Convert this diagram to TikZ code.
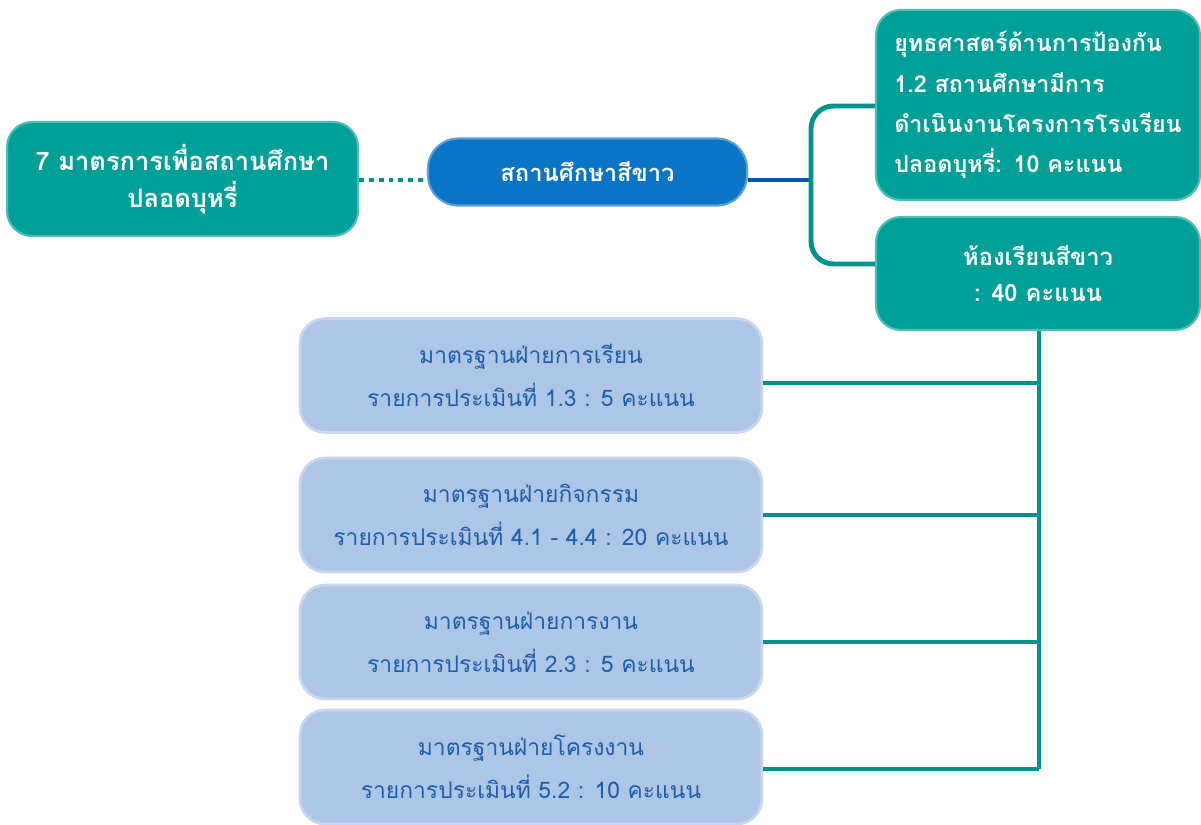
\documentclass[tikz,border=0pt]{standalone}
\usepackage{fontspec}
\setmainfont[Script=Thai]{Loma}
\definecolor{tealfill}{HTML}{00A098}
\definecolor{tealedge}{HTML}{4DBDB6}
\definecolor{tealline}{HTML}{00928C}
\definecolor{bluefill}{HTML}{0A74C6}
\definecolor{blueedge}{HTML}{5A9EDC}
\definecolor{blueline}{HTML}{0557A8}
\definecolor{lightfill}{HTML}{AEC6E6}
\definecolor{lightedge}{HTML}{C8D7EF}
\definecolor{lighttext}{HTML}{1F5EA8}
\tikzset{
  tealbox/.style={draw=tealedge, line width=1.2pt, fill=tealfill, rounded corners=0.5cm,
    text=white, font=\bfseries\fontsize{13.5}{21}\selectfont, align=center, inner sep=0pt},
  bluebox/.style={draw=blueedge, line width=1.2pt, fill=bluefill, rounded corners=0.6cm,
    text=white, font=\bfseries\fontsize{13.5}{20}\selectfont, align=center, inner sep=0pt},
  lightbox/.style={draw=lightedge, line width=1.5pt, fill=lightfill, rounded corners=0.5cm,
    text=lighttext, font=\fontsize{13}{24.5}\selectfont, align=center, inner sep=0pt,
    minimum width=9.24cm, minimum height=2.28cm},
  tline/.style={draw=tealline, line width=2.8pt},
}
\begin{document}
\begin{tikzpicture}[x=0.02cm, y=-0.02cm]
\useasboundingbox (0,0) rectangle (1201,825);

\node[tealbox, minimum width=7.02cm, minimum height=2.28cm,
  font=\bfseries\fontsize{14.5}{21}\selectfont] (left) at (182.5,179)
  {7 มาตรการเพื่อสถานศึกษา\\ปลอดบุหรี่};
\node[bluebox, minimum width=6.38cm, minimum height=1.34cm] (center) at (587.5,172)
  {สถานศึกษาสีขาว};
\node[tealbox, minimum height=3.8cm, text width=5.75cm, inner xsep=0.365cm, align=left,
  font=\bfseries\fontsize{13.3}{22.9}\selectfont] (tr) at (1038,105)
  {ยุทธศาสตร์ด้านการป้องกัน\\1.2 สถานศึกษามีการ\\ดำเนินงานโครงการโรงเรียน\\ปลอดบุหรี่: 10 คะแนน};
\node[tealbox, minimum width=6.48cm, minimum height=2.26cm] (r2) at (1038,273.5)
  {ห้องเรียนสีขาว\\: 40 คะแนน};

\node[lightbox] (b1) at (531,375.5) {มาตรฐานฝ่ายการเรียน\\รายการประเมินที่ 1.3 : 5 คะแนน};
\node[lightbox] (b2) at (531,515) {มาตรฐานฝ่ายกิจกรรม\\รายการประเมินที่ 4.1 - 4.4 : 20 คะแนน};
\node[lightbox] (b3) at (531,642) {มาตรฐานฝ่ายการงาน\\รายการประเมินที่ 2.3 : 5 คะแนน};
\node[lightbox] (b4) at (531,767) {มาตรฐานฝ่ายโครงงาน\\รายการประเมินที่ 5.2 : 10 คะแนน};

\coordinate (j) at (811,180);
\coordinate (trunk) at (1039,769);

% dotted connector
\draw[tealline, line width=2.8pt, dash pattern=on 2.8pt off 2.8pt] (left.east |- j) -- (center.west |- j);
% blue connector
\draw[blueline, line width=2.2pt] (center.east |- j) -- (j);
% bracket
\draw[tline, rounded corners=0.45cm] (tr.west |- 0,106) -| (j) |- (r2.west |- 0,264);
% trunk
\draw[tline] (r2.south -| trunk) -- (trunk);
\draw[tline] (b1.east |- 0,383) -- (trunk |- 0,383);
\draw[tline] (b2.east |- 0,515) -- (trunk |- 0,515);
\draw[tline] (b3.east |- 0,642) -- (trunk |- 0,642);
\draw[tline] (b4.east |- 0,769) -- (trunk);
\end{tikzpicture}
\end{document}
